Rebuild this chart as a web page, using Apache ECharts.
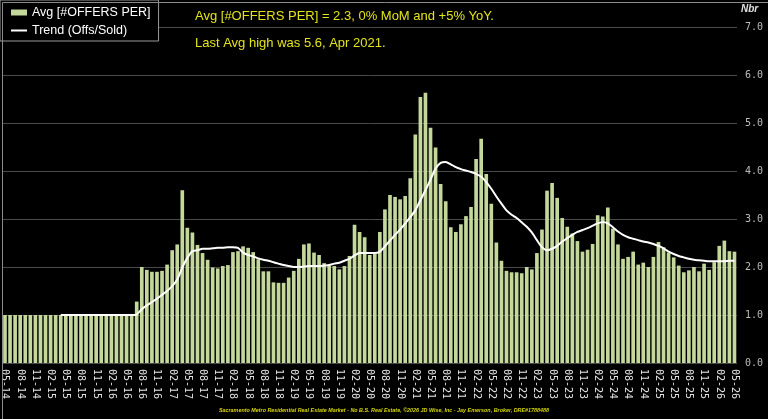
<!DOCTYPE html>
<html>
<head>
<meta charset="utf-8">
<script src="https://cdn.jsdelivr.net/npm/echarts@6/dist/echarts.min.js"></script>
<style>
    html, body { margin: 0; padding: 0; background: #000; }
    #chart { width: 768px; height: 419px; }
</style>
</head>
<body>
<div id="chart"></div>
<script>
    // monthly, 05-14 .. 05-26
    var startYear = 2014, startMonth = 5, monthCount = 145;
    var months = [];
    for (var i = 0; i < monthCount; i++) {
        var m = (startMonth - 1 + i) % 12 + 1;
        var y = startYear + Math.floor((startMonth - 1 + i) / 12);
        months.push((m < 10 ? '0' + m : '' + m) + '-' + String(y).slice(2));
    }

    // Avg [#OFFERS PER], one row per 12 months from 05-14
    var avgOffers = [
        1, 1, 1, 1, 1, 1, 1, 1, 1, 1, 1, 1,
        1, 1, 1, 1, 1, 1, 1, 1, 1, 1, 1, 1,
        1, 1, 1.28, 2.0, 1.94, 1.9, 1.9, 1.92, 2.05, 2.35, 2.47, 3.6,
        2.82, 2.72, 2.46, 2.29, 2.15, 1.99, 1.97, 2.02, 2.04, 2.31, 2.33, 2.43,
        2.4, 2.31, 2.16, 1.91, 1.91, 1.68, 1.67, 1.67, 1.78, 1.92, 2.17, 2.47,
        2.49, 2.3, 2.25, 2.08, 2.03, 2.02, 1.95, 2.02, 2.23, 2.88, 2.73, 2.62,
        2.25, 2.27, 2.73, 3.2, 3.5, 3.46, 3.41, 3.48, 3.85, 4.76, 5.54, 5.63,
        4.9, 4.49, 3.73, 3.37, 2.83, 2.73, 2.89, 3.06, 3.25, 4.25, 4.67, 3.94,
        3.32, 2.51, 2.13, 1.92, 1.89, 1.89, 1.87, 2.0, 1.95, 2.29, 2.78, 3.59,
        3.75, 3.44, 3.02, 2.84, 2.7, 2.54, 2.32, 2.36, 2.48, 3.08, 3.05, 3.24,
        2.8, 2.47, 2.17, 2.21, 2.32, 2.05, 2.09, 2.0, 2.21, 2.52, 2.41, 2.3,
        2.2, 2.03, 1.89, 1.93, 2.0, 1.91, 2.07, 1.94, 2.1, 2.44, 2.55, 2.33,
        2.32
    ];

    // Trend (Offs/Sold), starts 04-15
    var trend = [
        null, null, null, null, null, null, null, null, null, null, null, 1.0,
        1, 1, 1, 1, 1, 1, 1, 1, 1, 1, 1, 1,
        1.0, 1.0, 1.01, 1.12, 1.2, 1.27, 1.34, 1.42, 1.5, 1.6, 1.74, 1.99,
        2.19, 2.33, 2.35, 2.38, 2.38, 2.39, 2.4, 2.4, 2.41, 2.41, 2.4, 2.3,
        2.25, 2.22, 2.18, 2.15, 2.13, 2.1, 2.07, 2.04, 2.02, 2.0, 2.0, 2.01,
        2.02, 2.02, 2.02, 2.03, 2.04, 2.07, 2.09, 2.13, 2.17, 2.24, 2.29, 2.29,
        2.29, 2.29, 2.32, 2.43, 2.55, 2.67, 2.78, 2.91, 3.04, 3.18, 3.39, 3.6,
        3.82, 4.05, 4.17, 4.19, 4.14, 4.08, 4.04, 4.01, 3.98, 3.94, 3.88, 3.77,
        3.63, 3.47, 3.32, 3.18, 3.09, 3.02, 2.93, 2.84, 2.72, 2.56, 2.41, 2.35,
        2.38, 2.44, 2.53, 2.6, 2.67, 2.73, 2.77, 2.81, 2.86, 2.91, 2.94, 2.91,
        2.83, 2.74, 2.67, 2.62, 2.59, 2.56, 2.53, 2.51, 2.48, 2.44, 2.39, 2.32,
        2.27, 2.23, 2.2, 2.17, 2.15, 2.14, 2.13, 2.12, 2.12, 2.12, 2.12, 2.13,
        2.13
    ];

    var yTicks = [0, 1, 2, 3, 4, 5, 6, 7];

    var noteLines = [
        'Avg [#OFFERS PER] = 2.3, 0% MoM and +5% YoY.',
        'Last Avg high was 5.6, Apr 2021.'
    ];
    var footer = 'Sacramento Metro Residential Real Estate Market - No B.S. Real Estate, \u00a92026 JD Wise, Inc - Jay Emerson, Broker, DRE#1788488';

    var yellow = '#e3e31c';
    var mono = '"DejaVu Sans Mono", monospace';
    var sans = '"Liberation Sans", Arial, sans-serif';

    var chart = echarts.init(document.getElementById('chart'));
    var option = {
        backgroundColor: '#000',
        animation: false,
        grid: {
            left: 0,
            right: 31,
            top: 27,
            bottom: 56
        },
        legend: {
            orient: 'vertical',
            left: 0,
            top: 0,
            backgroundColor: '#000',
            borderColor: '#9a9a9a',
            borderWidth: 1,
            padding: [6, 8, 4, 10],
            itemGap: 5,
            itemWidth: 16,
            itemHeight: 6,
            textStyle: { color: '#fff', fontSize: 12.5, fontFamily: sans },
            data: [
                { name: 'Avg [#OFFERS PER]', icon: 'rect' },
                { name: 'Trend (Offs/Sold)', itemStyle: { opacity: 0 } }
            ]
        },
        xAxis: {
            type: 'category',
            data: months,
            axisLine: { show: false },
            axisTick: { show: false },
            axisLabel: {
                interval: 2,
                rotate: -90,
                color: '#e4e4e4',
                fontSize: 10,
                fontFamily: mono,
                margin: 6
            }
        },
        yAxis: {
            type: 'value',
            position: 'right',
            min: yTicks[0],
            max: yTicks[yTicks.length - 1],
            interval: 1,
            axisLine: { show: false },
            axisTick: { show: false },
            axisLabel: {
                color: '#bdbdbd',
                fontSize: 10,
                fontFamily: mono,
                margin: 8,
                formatter: function (v) { return v.toFixed(1); }
            },
            splitLine: { lineStyle: { color: '#4a4a4a', width: 1 } }
        },
        graphic: [
            { type: 'rect', left: 0, top: 0, shape: { width: 767, height: 418 },
              style: { fill: null, stroke: '#8a8a8a', lineWidth: 1 }, z: 100, silent: true },
            { type: 'text', left: 195, top: 10, style: { text: noteLines[0], fill: yellow, font: '13px ' + sans } },
            { type: 'text', left: 195, top: 37, style: { text: noteLines[1], fill: yellow, font: '13px ' + sans } },
            { type: 'text', left: 741, top: 4, style: { text: 'Nbr', fill: '#e0e0e0', font: 'italic bold 10px ' + sans } },
            { type: 'text', left: 'center', top: 408, style: { text: footer, fill: '#d6d600', font: 'italic bold 5.4px ' + sans } }
        ],
        series: [
            {
                name: 'Avg [#OFFERS PER]',
                type: 'bar',
                data: avgOffers,
                barCategoryGap: '28%',
                itemStyle: { color: '#c4d89b' }
            },
            {
                name: 'Trend (Offs/Sold)',
                type: 'line',
                data: trend,
                symbol: 'none',
                smooth: 0.2,
                lineStyle: { color: '#fff', width: 2 },
                itemStyle: { color: '#fff' }
            }
        ]
    };
    chart.setOption(option);
</script>
</body>
</html>
